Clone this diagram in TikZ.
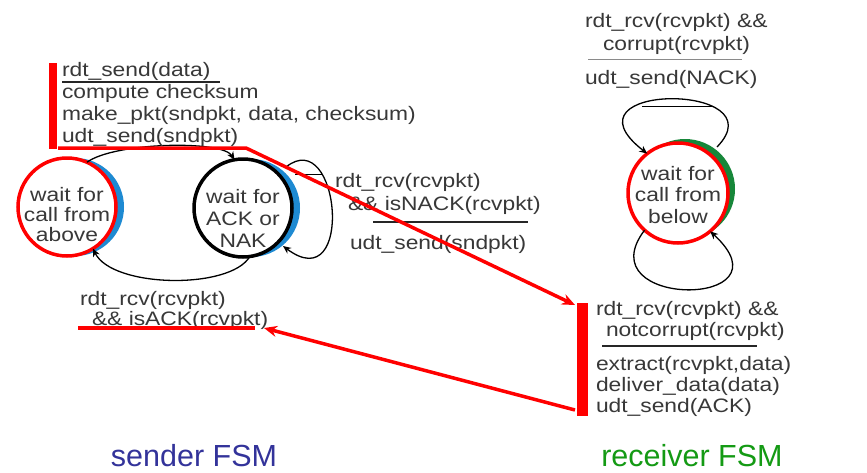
\documentclass[tikz,border=0pt]{standalone}
\usepackage{fontspec}
\setmainfont{Liberation Sans}[FakeStretch=1.17]
\newfontfamily\capfont{Liberation Sans}
\usetikzlibrary{arrows.meta}
\definecolor{txt}{HTML}{383838}
\definecolor{crescblue}{HTML}{1E8AD2}
\definecolor{crescgreen}{HTML}{17873A}
\definecolor{sendblue}{HTML}{33339A}
\definecolor{recvgreen}{HTML}{149A14}
\definecolor{thinline}{HTML}{8A8A8A}
\begin{document}
\begin{tikzpicture}[x=1pt,y=-1pt,
  every node/.style={inner sep=0pt,outer sep=0pt,text=txt},
  lbl/.style={anchor=base west,font=\fontsize{19.5}{21}\selectfont},
  stxt/.style={align=center,font=\fontsize{19.5}{#1}\selectfont},
  stxt/.default=21,
  ring/.style={circle,minimum size=98pt,fill=white,line width=3.5pt},
  cresc/.style={circle,minimum size=98pt,fill=#1},
  trans/.style={draw=black,line width=1.3pt,-{Stealth[length=8pt,width=7pt]}},
  rule/.style={draw=black!85,line width=1.3pt},
  redline/.style={draw=red,line width=3.5pt},
  redbar/.style={fill=red,draw=none},
  caption/.style={font=\capfont\fontsize{30.5}{32}\selectfont}]
\useasboundingbox[fill=white] (0,0) rectangle (867,472);

% ---------- sender states ----------
\node[cresc=crescblue] (s1b) at (75,207) {};
\node[ring,draw=red] (s1) at (67,207) {};
\node[stxt=20] (t1) at (67,215) {wait for\\call from\\above};

\node[cresc=crescblue] (s2b) at (251,208) {};
\node[ring,draw=black] (s2) at (243,208) {};
\node[stxt=22] (t2) at (243,218) {wait for\\ACK or\\NAK};

% ---------- sender transitions ----------
\draw[trans] (s1.66) .. controls (115,142) and (222,140) .. (s2.100);
\draw[trans] (s2.-82) .. controls (230,290) and (112,288) .. (s1.-58);
\coordinate (l1s) at (286,167);
\coordinate (l1e) at (283,246);
\draw[trans] (l1s) .. controls (340,124) and (355,300) .. (l1e);
\coordinate (a1) at (295,174);
\coordinate (a2) at (323,174);
\draw[line width=1pt] (a1) -- (a2);

% ---------- sender labels ----------
\node[redbar,minimum width=8pt,minimum height=86pt] (lbar) at (53,106) {};
\node[lbl] (e1) at (62,76) {rdt\_send(data)};
\coordinate (u1a) at (62,82);
\coordinate (u1b) at (220,82);
\draw[rule] (u1a) -- (u1b);
\node[lbl] (e2) at (62,98) {compute checksum};
\node[lbl] (e3) at (62,120) {make\_pkt(sndpkt, data, checksum)};
\node[lbl] (e4) at (62,142) {udt\_send(sndpkt)};

\node[lbl] (n1) at (335,187) {rdt\_rcv(rcvpkt)};
\node[lbl] (n2) at (348,210) {\&\& isNACK(rcvpkt)};
\coordinate (u2a) at (373,222);
\coordinate (u2b) at (528,222);
\draw[rule] (u2a) -- (u2b);
\node[lbl] (n3) at (350,249) {udt\_send(sndpkt)};

\node[lbl] (k1) at (80,305) {rdt\_rcv(rcvpkt)};
\node[lbl] (k2) at (92,325) {\&\& isACK(rcvpkt)};

% ---------- receiver state ----------
\node[cresc=crescgreen,minimum size=100pt] (r1b) at (685,189) {};
\node[ring,draw=red,minimum size=100pt] (r1) at (678,193) {};
\node[stxt=21.5] (t3) at (678,195) {wait for\\call from\\below};

\coordinate (r1ts) at (717,147);
\draw[trans] (r1ts) .. controls (780,82) and (555,82) .. (r1.128);
\coordinate (b1) at (642,106);
\coordinate (b2) at (712,106);
\draw[line width=1pt] (b1) -- (b2);
\draw[trans] (r1.-132) .. controls (585,309) and (795,309) .. (r1.-50);

% ---------- receiver labels ----------
\node[lbl] (c1) at (585,27) {rdt\_rcv(rcvpkt) \&\&};
\node[lbl] (c2) at (603,50) {corrupt(rcvpkt)};
\coordinate (u3a) at (588,59);
\coordinate (u3b) at (742,59);
\draw[draw=thinline,line width=0.8pt] (u3a) -- (u3b);
\node[lbl] (c3) at (585,84) {udt\_send(NACK)};

\node[redbar,minimum width=11pt,minimum height=113pt] (rbar) at (582.5,359.5) {};
\node[lbl] (d1) at (596,315) {rdt\_rcv(rcvpkt) \&\&};
\node[lbl] (d2) at (606,336) {notcorrupt(rcvpkt)};
\coordinate (u4a) at (602,346);
\coordinate (u4b) at (757,346);
\draw[rule,line width=1.8pt] (u4a) -- (u4b);
\node[lbl] (d3) at (596,370) {extract(rcvpkt,data)};
\node[lbl] (d4) at (596,391) {deliver\_data(data)};
\node[lbl] (d5) at (596,412) {udt\_send(ACK)};

% ---------- red annotations ----------
\coordinate (rs) at (58,148);
\coordinate (rk) at (246,148);
\coordinate (rt) at (575,305);
\draw[redline,-{Stealth[length=13pt,width=11pt]}] (rs) -- (rk) -- (rt);
\coordinate (ack) at (78,328);
\coordinate (ackend) at (255,328);
\draw[redline] (ack) -- (ackend);
\coordinate (rf) at (575,410);
\coordinate (rg) at (264,328);
\draw[redline,-{Stealth[length=13pt,width=11pt]}] (rf) -- (rg);

% ---------- captions ----------
\node[caption,text=sendblue] (cap1) at (194,456) {sender FSM};
\node[caption,text=recvgreen] (cap2) at (692,456) {receiver FSM};
\end{tikzpicture}
\end{document}
